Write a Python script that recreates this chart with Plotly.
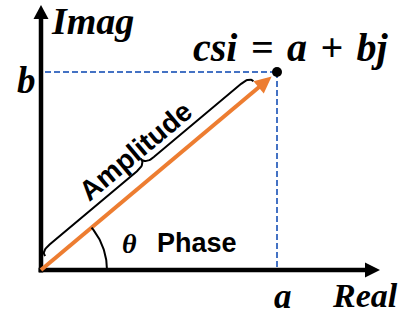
import numpy as np
import plotly.graph_objects as go

# ---- data (chart units: 1 unit = 1 px, origin at the axis corner) ----
real_a = 236          # real part a
imag_b = 198          # imaginary part b
x_axis_len = 339
y_axis_len = 265
theta_radius = 66
point_label = "csi = a + bj"
axis_labels = ["Real", "Imag"]
tick_labels = ["a", "b"]
vector_label = "Amplitude"
angle_label = "Phase"

W, H = 402, 315
ox, oy = 41, 270  # pixel location of origin

BLACK = "#000000"
ORANGE = "#ED7D31"
BLUE = "#4472C4"

fig = go.Figure()


def head(tip, direction, length, half):
    d = np.array(direction, float)
    d = d / np.linalg.norm(d)
    n = np.array([-d[1], d[0]])
    tip = np.array(tip, float)
    base = tip - d * length
    pts = [tip, base + n * half, base - n * half, tip]
    return [p[0] for p in pts], [p[1] for p in pts]


def poly(xs, ys, color):
    fig.add_trace(go.Scatter(x=xs, y=ys, mode="lines", fill="toself",
                             fillcolor=color, line=dict(width=0, color=color),
                             hoverinfo="skip", showlegend=False))


def line(xs, ys, color, width, dash=None):
    fig.add_trace(go.Scatter(x=xs, y=ys, mode="lines",
                             line=dict(color=color, width=width, dash=dash),
                             hoverinfo="skip", showlegend=False))


# dashed projection lines
line([4, real_a], [imag_b, imag_b], BLUE, 2, "6px,3px")
line([real_a, real_a], [imag_b, 0], BLUE, 2, "6px,3px")

# axes
line([-2.5, x_axis_len - 12], [0, 0], BLACK, 4.5)
line([0, 0], [-2.5, y_axis_len - 12], BLACK, 4.5)
poly(*head((x_axis_len, 0), (1, 0), 15, 7.5), BLACK)
poly(*head((0, y_axis_len), (0, 1), 14, 7.5), BLACK)

# vector
vec = np.array([real_a, imag_b], float)
L = np.linalg.norm(vec)
u = vec / L
nrm = np.array([-u[1], u[0]])
tip = u * (L - 7)
hx, hy = head(tip, u, 17, 8)
shaft_end = u * (L - 7 - 14)
line([0, shaft_end[0]], [0, shaft_end[1]], ORANGE, 4)
poly(hx, hy, ORANGE)

# phase arc
ang = np.arctan2(imag_b, real_a)
t = np.linspace(0, ang, 40)
line(theta_radius * np.cos(t), theta_radius * np.sin(t), BLACK, 2)

# brace along the vector
s0, s1 = 12, 284
sm = (s0 + s1) / 2
t0, tb, tc, r = 8, 14, 21, 11


def qbez(p0, c, p1, n=15):
    tt = np.linspace(0, 1, n)[:, None]
    return (1 - tt) ** 2 * np.array(p0) + 2 * (1 - tt) * tt * np.array(c) + tt ** 2 * np.array(p1)


seg = np.vstack([
    qbez((s0, t0), (s0, tb), (s0 + r, tb)),
    qbez((sm - r, tb), (sm, tb), (sm, tc)),
    qbez((sm, tc), (sm, tb), (sm + r, tb)),
    qbez((s1 - r, tb), (s1, tb), (s1, t0)),
])
bx = seg[:, 0] * u[0] + seg[:, 1] * nrm[0]
by = seg[:, 0] * u[1] + seg[:, 1] * nrm[1]
line(bx, by, BLACK, 2)

# point
fig.add_trace(go.Scatter(x=[real_a], y=[imag_b], mode="markers",
                         marker=dict(color=BLACK, size=10),
                         hoverinfo="skip", showlegend=False))


def px(xp, yp):
    return xp - ox, oy - yp


SERIF = "Liberation Serif"
SANS = "Liberation Sans"


def label(text, xp, yp, family, size, italic=True, angle=0):
    x, y = px(xp, yp)
    fig.add_annotation(x=x, y=y, text=text, showarrow=False,
                       xanchor="center", yanchor="middle", textangle=angle,
                       font=dict(family=family, size=size, color=BLACK,
                                 weight="bold", style="italic" if italic else "normal"))


label(axis_labels[1], 92.5, 21, SERIF, 38)
label(tick_labels[1], 26, 80, SERIF, 37)
label(point_label.replace(" ", "\u00a0\u200a"), 290, 47, SERIF, 40)
label(tick_labels[0], 282.5, 296, SERIF, 35)
label(axis_labels[0], 365, 295, SERIF, 34)
label("θ", 129.5, 243, SERIF, 28)
label(angle_label, 196.5, 243, SANS, 27, italic=False)
label(vector_label, 135, 151, SANS, 28, italic=False, angle=-40)

fig.update_layout(
    width=W, height=H, margin=dict(l=0, r=0, t=0, b=0),
    plot_bgcolor="white", paper_bgcolor="white",
    xaxis=dict(range=[-ox, W - ox], visible=False, fixedrange=True),
    yaxis=dict(range=[oy - H, oy], visible=False, fixedrange=True),
    showlegend=False,
)
fig.write_html("out.html", config={"displayModeBar": False},
               post_script="document.body.style.margin='0';document.body.style.overflow='hidden';")
